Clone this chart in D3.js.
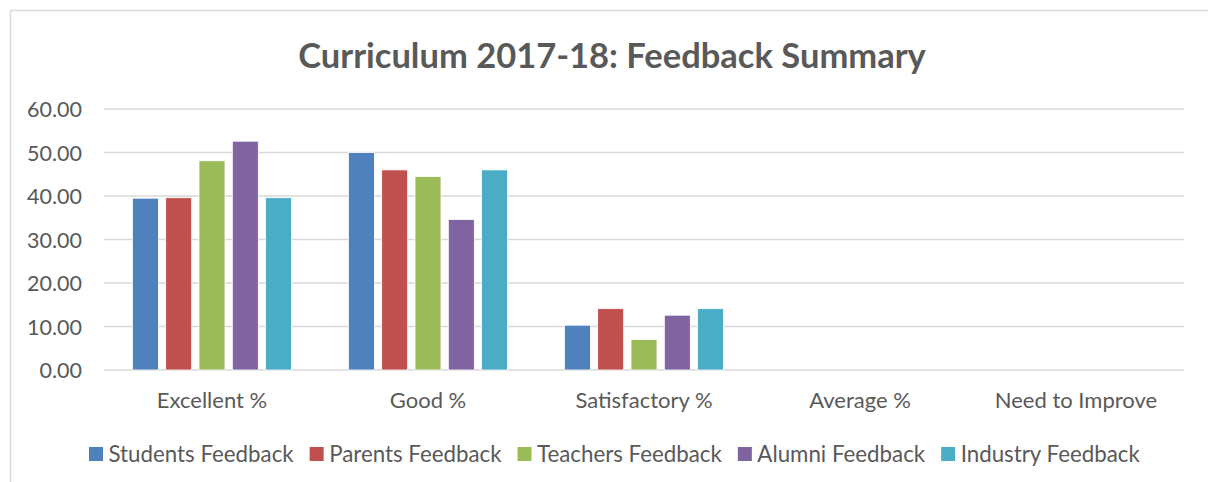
<!DOCTYPE html>
<html>
<head>
<meta charset="utf-8">
<script src="https://cdn.jsdelivr.net/npm/d3@7"></script>
<style>
  body { margin: 0; background: #fff; }
  svg text { font-family: Lato, "Open Sans", sans-serif; fill: #595959; }
</style>
</head>
<body>
<div id="chart"></div>
<script>
const categories = ["Excellent %", "Good %", "Satisfactory %", "Average %", "Need to Improve"];
const seriesNames = ["Students Feedback", "Parents Feedback", "Teachers Feedback", "Alumni Feedback", "Industry Feedback"];
const students = [39.5, 50.0, 10.3, 0, 0];
const parents = [39.6, 46.0, 14.1, 0, 0];
const teachers = [48.1, 44.5, 7.0, 0, 0];
const alumni = [52.6, 34.6, 12.6, 0, 0];
const industry = [39.6, 46.0, 14.1, 0, 0];
const yTicks = [0, 10, 20, 30, 40, 50, 60];
const colors = ["#4F81BD", "#C0504D", "#9BBB59", "#8064A2", "#4BACC6"];

const seriesValues = [students, parents, teachers, alumni, industry];

const width = 1208, height = 482;
const plot = { left: 104, right: 1184, top: 109, bottom: 370 };

var svg = d3.select("#chart").append("svg")
    .attr("width", width)
    .attr("height", height);

// chart frame (runs off the right and bottom edges)
svg.append("rect")
    .attr("x", 10.5).attr("y", 10.5)
    .attr("width", 1260).attr("height", 520)
    .attr("fill", "none")
    .attr("stroke", "#D9D9D9")
    .attr("stroke-width", 1.5);

svg.append("text")
    .attr("x", 612).attr("y", 68)
    .attr("text-anchor", "middle")
    .style("font-size", "34.5px")
    .style("font-weight", "bold")
    .text("Curriculum 2017-18: Feedback Summary");

var x0 = d3.scaleBand()
    .domain(categories)
    .range([plot.left, plot.right])
    .paddingInner(0.229)
    .paddingOuter(0.1145);

var x1 = d3.scaleBand()
    .domain(seriesNames)
    .range([0, x0.bandwidth()])
    .paddingInner(0.22)
    .paddingOuter(0.11);

var y = d3.scaleLinear()
    .domain([0, 60])
    .range([plot.bottom, plot.top]);

// gridlines
svg.append("g")
    .selectAll("line")
    .data(yTicks)
    .join("line")
    .attr("x1", plot.left).attr("x2", plot.right)
    .attr("y1", d => y(d)).attr("y2", d => y(d))
    .attr("stroke", "#D9D9D9")
    .attr("stroke-width", 1.5);

// y labels
svg.append("g")
    .selectAll("text")
    .data(yTicks)
    .join("text")
    .attr("x", 82)
    .attr("y", d => y(d) + 8)
    .attr("text-anchor", "end")
    .style("font-size", "21.5px")
    .text(d => d3.format(".2f")(d));

// bars
var groups = svg.append("g")
    .selectAll("g")
    .data(seriesNames)
    .join("g")
    .attr("fill", (d, i) => colors[i]);

groups.selectAll("rect")
    .data((name, i) => categories.map((c, j) => ({ cat: c, name: name, value: seriesValues[i][j] })))
    .join("rect")
    .filter(d => d.value > 0)
    .attr("x", d => x0(d.cat) + x1(d.name))
    .attr("y", d => y(d.value))
    .attr("width", x1.bandwidth())
    .attr("height", d => y(0) - y(d.value))
    .attr("stroke", "#fff")
    .attr("stroke-width", 0.8);

// category labels
svg.append("g")
    .selectAll("text")
    .data(categories)
    .join("text")
    .attr("x", d => x0(d) + x0.bandwidth() / 2)
    .attr("y", 408)
    .attr("text-anchor", "middle")
    .style("font-size", "22px")
    .text(d => d);

// legend
var legend = svg.append("g");
var lx = 89;
seriesNames.forEach(function(name, i) {
    legend.append("rect")
        .attr("x", lx).attr("y", 447)
        .attr("width", 14).attr("height", 14)
        .attr("fill", colors[i]);
    var t = legend.append("text")
        .attr("x", lx + 19.5).attr("y", 462)
        .style("font-size", "22.3px")
        .text(name);
    lx += 19.5 + t.node().getComputedTextLength() + 16;
});
</script>
</body>
</html>
